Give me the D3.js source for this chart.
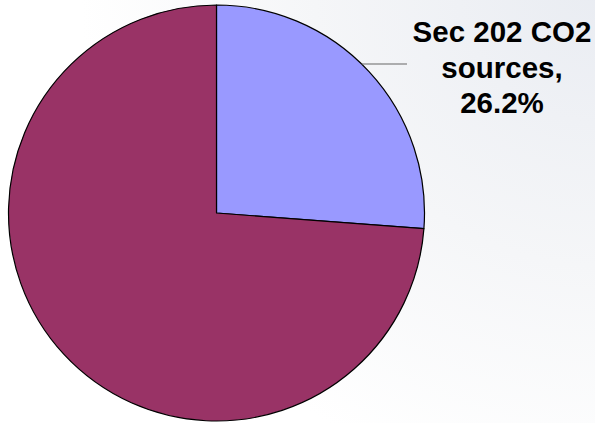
<!DOCTYPE html>
<html lang="en">
<head>
<meta charset="UTF-8">
<title>Sec 202 CO2 sources</title>
<script src="https://cdn.jsdelivr.net/npm/d3@7/dist/d3.min.js"></script>
<style>
  html, body { margin: 0; padding: 0; background: #fff; }
  svg { display: block; }
</style>
</head>
<body>
<svg width="595" height="423"></svg>
<script>
// data
var categories = ["Sec 202 CO2 sources", "Other"];
var values = [26.2, 73.8];
var colors = ["#9999ff", "#993366"];
var labelLines = ["Sec 202 CO2", "sources,", "26.2%"];

var width = 595, height = 423;
var cx = 216.5, cy = 213, radius = 208;

var svg = d3.select("svg");

// faint background wash, grey at top right fading to white
var defs = svg.append("defs");
var grad = defs.append("radialGradient")
  .attr("id", "bg")
  .attr("gradientUnits", "userSpaceOnUse")
  .attr("cx", 600).attr("cy", -20).attr("r", 520);
grad.append("stop").attr("offset", "0%").attr("stop-color", "#e9ecf2");
grad.append("stop").attr("offset", "55%").attr("stop-color", "#f5f6f8");
grad.append("stop").attr("offset", "100%").attr("stop-color", "#ffffff");

svg.append("rect")
  .attr("width", width).attr("height", height)
  .attr("fill", "url(#bg)");

var pie = d3.pie().sort(null).value(function(d) { return d; });
var arc = d3.arc().innerRadius(0).outerRadius(radius);
var arcs = pie(values);

var g = svg.append("g").attr("transform", "translate(" + cx + "," + cy + ")");

g.selectAll("path")
  .data(arcs)
  .enter().append("path")
  .attr("d", arc)
  .attr("fill", function(d, i) { return colors[i]; })
  .attr("stroke", "#000")
  .attr("stroke-width", 1.2)
  .attr("stroke-linejoin", "round");

// leader line from the first slice out to the label
var lineY = 64 - cy;
var edgeX = Math.sqrt(radius * radius - lineY * lineY);
g.append("line")
  .attr("x1", edgeX).attr("y1", lineY)
  .attr("x2", 407 - cx).attr("y2", lineY)
  .attr("stroke", "#666")
  .attr("stroke-width", 1.2);

// label
var label = svg.append("text")
  .attr("text-anchor", "middle")
  .attr("font-family", "Liberation Sans, Arial, sans-serif")
  .attr("font-weight", "bold")
  .attr("font-size", 29.5)
  .attr("fill", "#000");

label.selectAll("tspan")
  .data(labelLines)
  .enter().append("tspan")
  .attr("x", 502)
  .attr("y", function(d, i) { return 42 + i * 35.5; })
  .text(function(d) { return d; });
</script>
</body>
</html>
